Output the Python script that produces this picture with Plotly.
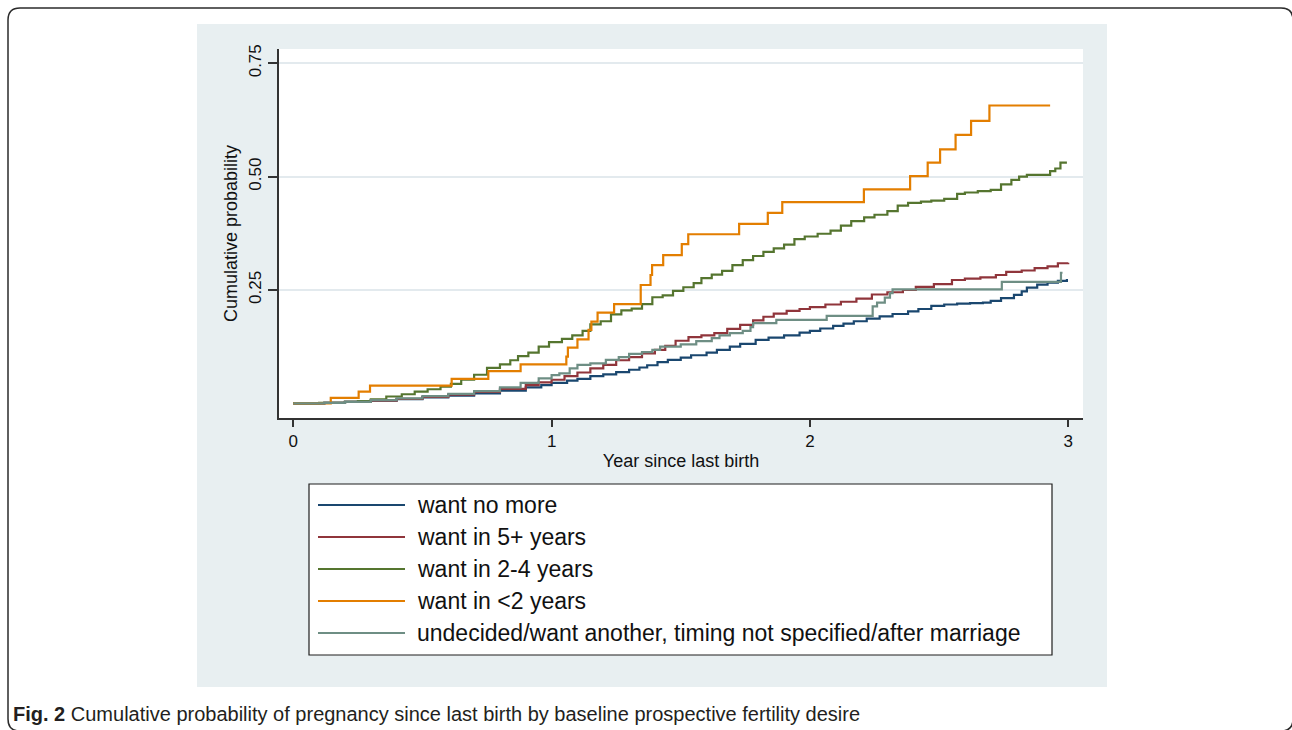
import plotly.graph_objects as go

# ---------------- data ----------------
series_names = [
    "want no more",
    "want in 5+ years",
    "want in 2-4 years",
    "want in <2 years",
    "undecided/want another, timing not specified/after marriage",
]
series_colors = ["#1a476f", "#90353b", "#55752f", "#e37e00", "#6e8e84"]

blue_t = [0, 0.12, 0.2, 0.3, 0.4, 0.5, 0.6, 0.7, 0.8, 0.9, 0.96, 1.0, 1.06, 1.1, 1.15, 1.2,
          1.25, 1.3, 1.34, 1.37, 1.41, 1.45, 1.5, 1.54, 1.6, 1.64, 1.69, 1.73, 1.79, 1.84,
          1.9, 1.96, 2.0, 2.04, 2.09, 2.13, 2.17, 2.22, 2.27, 2.32, 2.38, 2.42, 2.47, 2.52,
          2.57, 2.62, 2.67, 2.7, 2.74, 2.79, 2.82, 2.84, 2.88, 2.92, 2.96, 2.995]
blue_v = [0, 0.001, 0.003, 0.006, 0.009, 0.013, 0.017, 0.022, 0.028, 0.035, 0.040, 0.045,
          0.050, 0.054, 0.060, 0.064, 0.069, 0.074, 0.079, 0.084, 0.091, 0.096, 0.101, 0.106,
          0.112, 0.118, 0.125, 0.131, 0.140, 0.145, 0.150, 0.156, 0.160, 0.165, 0.171, 0.176,
          0.181, 0.187, 0.192, 0.197, 0.203, 0.208, 0.215, 0.218, 0.220, 0.221, 0.222, 0.226,
          0.232, 0.239, 0.247, 0.255, 0.262, 0.266, 0.270, 0.274]

red_t = [0, 0.12, 0.2, 0.3, 0.4, 0.5, 0.6, 0.7, 0.8, 0.9, 0.95, 1.0, 1.05, 1.1, 1.15, 1.2,
         1.25, 1.3, 1.35, 1.4, 1.44, 1.48, 1.53, 1.58, 1.63, 1.68, 1.73, 1.78, 1.82, 1.86,
         1.91, 1.96, 2.0, 2.06, 2.12, 2.18, 2.24, 2.3, 2.36, 2.41, 2.48, 2.55, 2.6, 2.66,
         2.72, 2.76, 2.82, 2.87, 2.92, 2.96, 3.0]
red_v = [0, 0.001, 0.003, 0.006, 0.010, 0.014, 0.019, 0.025, 0.032, 0.040, 0.046, 0.052,
         0.060, 0.068, 0.077, 0.085, 0.095, 0.102, 0.110, 0.118, 0.127, 0.138, 0.146, 0.150,
         0.155, 0.164, 0.173, 0.183, 0.191, 0.198, 0.204, 0.208, 0.212, 0.218, 0.224, 0.231,
         0.240, 0.245, 0.250, 0.257, 0.263, 0.272, 0.275, 0.278, 0.283, 0.290, 0.293, 0.298,
         0.302, 0.309, 0.310]

green_t = [0, 0.1, 0.2, 0.25, 0.3, 0.36, 0.42, 0.47, 0.52, 0.57, 0.61, 0.65, 0.7, 0.75, 0.8,
           0.84, 0.87, 0.91, 0.95, 0.99, 1.04, 1.08, 1.12, 1.15, 1.19, 1.23, 1.27, 1.31, 1.35,
           1.39, 1.43, 1.47, 1.51, 1.55, 1.58, 1.62, 1.66, 1.70, 1.74, 1.78, 1.82, 1.86, 1.9,
           1.94, 1.98, 2.03, 2.08, 2.12, 2.16, 2.21, 2.25, 2.3, 2.34, 2.38, 2.43, 2.47, 2.52,
           2.57, 2.6, 2.65, 2.7, 2.74, 2.78, 2.81, 2.84, 2.93, 2.95, 2.97, 2.995]
green_v = [0, 0.001, 0.003, 0.005, 0.009, 0.015, 0.020, 0.026, 0.031, 0.037, 0.043, 0.052,
           0.063, 0.078, 0.086, 0.095, 0.104, 0.112, 0.125, 0.135, 0.142, 0.150, 0.160, 0.174,
           0.181, 0.196, 0.205, 0.209, 0.219, 0.234, 0.238, 0.248, 0.256, 0.265, 0.276, 0.284,
           0.292, 0.305, 0.316, 0.325, 0.334, 0.342, 0.350, 0.362, 0.368, 0.374, 0.381, 0.392,
           0.402, 0.410, 0.416, 0.424, 0.436, 0.442, 0.445, 0.447, 0.451, 0.462, 0.465, 0.468,
           0.471, 0.483, 0.493, 0.500, 0.504, 0.512, 0.518, 0.531, 0.531]

orange_t = [0, 0.145, 0.253, 0.297, 0.613, 0.755, 0.880, 1.057, 1.063, 1.100, 1.143, 1.154,
            1.178, 1.242, 1.345, 1.383, 1.389, 1.432, 1.504, 1.529, 1.726, 1.837, 1.893,
            2.209, 2.388, 2.456, 2.504, 2.564, 2.624, 2.695, 2.93]
orange_v = [0, 0.012, 0.026, 0.039, 0.054, 0.071, 0.086, 0.103, 0.123, 0.141, 0.162, 0.180,
            0.200, 0.219, 0.261, 0.283, 0.305, 0.327, 0.351, 0.373, 0.396, 0.420, 0.444,
            0.472, 0.501, 0.531, 0.560, 0.592, 0.623, 0.657, 0.657]

teal_t = [0, 0.12, 0.2, 0.3, 0.4, 0.5, 0.6, 0.7, 0.8, 0.88, 0.95, 1.0, 1.03, 1.07, 1.1, 1.15,
          1.21, 1.26, 1.3, 1.35, 1.39, 1.42, 1.5, 1.56, 1.62, 1.65, 1.69, 1.74, 1.77, 1.78,
          1.87, 2.065, 2.243, 2.26, 2.29, 2.31, 2.32, 2.743, 2.972, 2.978]
teal_v = [0, 0.001, 0.003, 0.007, 0.011, 0.016, 0.021, 0.027, 0.035, 0.045, 0.055, 0.062,
          0.066, 0.077, 0.085, 0.088, 0.096, 0.102, 0.109, 0.113, 0.118, 0.125, 0.130, 0.137,
          0.144, 0.150, 0.155, 0.160, 0.168, 0.177, 0.184, 0.193, 0.214, 0.222, 0.233, 0.243,
          0.2515, 0.268, 0.288, 0.288]

x_ticks = [0, 1, 2, 3]
y_ticks = [0.25, 0.5, 0.75]
y_ticklabels = ["0.25", "0.50", "0.75"]

caption_bold = "Fig. 2"
caption_text = "Cumulative probability of pregnancy since last birth by baseline prospective fertility desire"
x_title = "Year since last birth"
y_title = "Cumulative probability"

# ---------------- layout geometry (pixels) ----------------
W, H = 1292, 730
PL, PR, PT, PB = 279, 1083, 49, 418  # plot area


def fx(px):
    return (px - PL) / (PR - PL)


def fy(py):
    return (PB - py) / (PB - PT)


FONT = "Liberation Sans, Arial, Helvetica, sans-serif"

fig = go.Figure()
all_t = [blue_t, red_t, green_t, orange_t, teal_t]
all_v = [blue_v, red_v, green_v, orange_v, teal_v]
for name, col, t, v in zip(series_names, series_colors, all_t, all_v):
    fig.add_trace(go.Scatter(
        x=t, y=v, mode="lines", name=name, showlegend=False,
        line=dict(color=col, width=2.2, shape="hv"),
    ))

shapes = []
# outer rounded frame (right and bottom edges fall at the image border)
x0, y0, x1, y1, r = 8, 8, 1293, 731, 12
path = (f"M {fx(x0 + r)},{fy(y0)} L {fx(x1 - r)},{fy(y0)} Q {fx(x1)},{fy(y0)} {fx(x1)},{fy(y0 + r)} "
        f"L {fx(x1)},{fy(y1 - r)} Q {fx(x1)},{fy(y1)} {fx(x1 - r)},{fy(y1)} "
        f"L {fx(x0 + r)},{fy(y1)} Q {fx(x0)},{fy(y1)} {fx(x0)},{fy(y1 - r)} "
        f"L {fx(x0)},{fy(y0 + r)} Q {fx(x0)},{fy(y0)} {fx(x0 + r)},{fy(y0)} Z")
shapes.append(dict(type="path", path=path, xref="paper", yref="paper",
                   line=dict(color="#2b2b2b", width=1.5), layer="below"))
# graph region panel
shapes.append(dict(type="rect", xref="paper", yref="paper", x0=fx(197), x1=fx(1107),
                   y0=fy(687), y1=fy(24), fillcolor="#e8eff1", line=dict(width=0), layer="below"))
# plot region
shapes.append(dict(type="rect", xref="paper", yref="paper", x0=0, x1=1, y0=0, y1=1,
                   fillcolor="white", line=dict(width=0), layer="below"))
# legend box
LX0, LX1, LY0, LY1 = 309, 1052, 484, 655
shapes.append(dict(type="rect", xref="paper", yref="paper", x0=fx(LX0), x1=fx(LX1),
                   y0=fy(LY1), y1=fy(LY0), fillcolor="white",
                   line=dict(color="#1e1e1e", width=1.2), layer="above"))

annotations = []
row_y = [505, 537, 569, 601, 633]
for name, col, ry in zip(series_names, series_colors, row_y):
    shapes.append(dict(type="line", xref="paper", yref="paper", x0=fx(318), x1=fx(405),
                       y0=fy(ry), y1=fy(ry), line=dict(color=col, width=2), layer="above"))
    annotations.append(dict(text=name, xref="paper", yref="paper", x=fx(415), y=fy(ry),
                            xanchor="left", yanchor="middle", showarrow=False,
                            font=dict(family=FONT, size=23, color="#111111")))

annotations.append(dict(text=f"<b>{caption_bold}</b> {caption_text}", xref="paper", yref="paper",
                        x=fx(11), y=fy(714), xanchor="left", yanchor="middle", showarrow=False,
                        font=dict(family=FONT, size=20, color="#231f20")))

fig.update_layout(
    width=W, height=H,
    margin=dict(l=PL, r=W - PR, t=PT, b=H - PB, pad=0),
    paper_bgcolor="white", plot_bgcolor="white",
    showlegend=False,
    shapes=shapes, annotations=annotations,
    font=dict(family=FONT, color="#111111"),
    xaxis=dict(
        range=[-0.0554, 3.0573], tickvals=x_ticks, ticktext=[str(v) for v in x_ticks],
        showgrid=False, zeroline=False, showline=True, linecolor="#333333", linewidth=1.5,
        ticks="outside", ticklen=7, tickwidth=1.5, tickcolor="#333333",
        tickfont=dict(family=FONT, size=17, color="#111111"),
        title=dict(text=x_title, font=dict(family=FONT, size=18, color="#111111"), standoff=4),
        automargin=False, fixedrange=True,
    ),
    yaxis=dict(
        range=[-0.0324, 0.7816], tickvals=y_ticks, ticktext=y_ticklabels, tickangle=-90,
        showgrid=True, gridcolor="#e3eaee", gridwidth=1.5, zeroline=False,
        showline=True, linecolor="#333333", linewidth=1.5,
        ticks="outside", ticklen=9, tickwidth=1.5, tickcolor="#333333",
        tickfont=dict(family=FONT, size=17, color="#111111"),
        title=dict(text=y_title, font=dict(family=FONT, size=18, color="#111111"), standoff=4),
        automargin=False, fixedrange=True,
    ),
)

fig.write_html(
    "out.html",
    config={"displayModeBar": False},
    post_script="document.body.style.margin='0';document.body.style.overflow='hidden';",
)
